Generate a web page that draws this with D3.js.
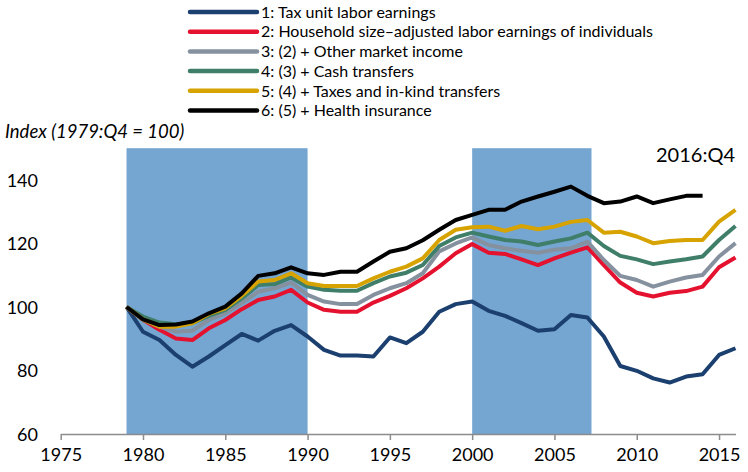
<!DOCTYPE html>
<html>
<head>
<meta charset="utf-8">
<script src="https://cdn.jsdelivr.net/npm/d3@7"></script>
<style>
  body { margin: 0; background: #fff; }
  text { font-family: Lato, "Open Sans", sans-serif; fill: #000; }
</style>
</head>
<body>
<div id="chart"></div>
<script>
'use strict';

// annual points, 1979 to 2016 (black series stops at 2014)
const years = d3.range(1979, 2017);

const taxUnitLabor = [100, 92.2, 89.6, 84.9, 81.2, 84.4, 88.0, 91.5, 89.4, 92.5, 94.3, 90.7, 86.5, 84.7, 84.7, 84.4, 90.4, 88.6, 92.2,
  98.5, 100.9, 101.7, 98.8, 97.2, 94.9, 92.5, 93.0, 97.5, 96.7, 90.7, 81.4, 79.9, 77.5, 76.2, 78.1, 78.8, 84.9, 87.0];
const hhAdjusted = [100, 96.0, 92.8, 90.1, 89.6, 93.3, 95.9, 99.3, 102.2, 103.3, 105.4, 101.4, 99.1, 98.5, 98.5, 101.4, 103.5, 105.9, 109.0,
  112.7, 116.9, 119.8, 117.1, 116.7, 115.0, 113.2, 115.3, 117.1, 118.8, 113.2, 107.7, 104.5, 103.3, 104.5, 105.0, 106.4, 112.5, 115.6];
const otherMarket = [100, 96.0, 93.8, 92.2, 92.5, 95.9, 98.0, 101.2, 104.8, 105.9, 107.7, 103.8, 101.7, 100.9, 100.9, 103.8, 105.9, 107.5, 110.6,
  117.5, 120.0, 121.9, 119.5, 118.5, 117.7, 117.1, 118.0, 118.5, 120.6, 114.8, 109.8, 108.5, 106.4, 108.0, 109.3, 110.1, 115.9, 120.1];
const cashTransfers = [100, 97.0, 95.1, 94.6, 94.9, 97.2, 99.1, 102.7, 106.9, 107.2, 109.3, 106.4, 105.4, 105.1, 105.1, 107.5, 109.6, 110.8, 113.2,
  119.2, 121.9, 123.4, 122.2, 121.1, 120.6, 119.5, 120.6, 121.6, 123.4, 119.2, 116.1, 115.0, 113.5, 114.3, 115.0, 115.9, 121.1, 125.5];
const taxesInKind = [100, 96.1, 93.8, 93.8, 94.9, 97.8, 99.6, 103.5, 108.0, 108.5, 110.6, 107.5, 106.6, 106.6, 106.6, 109.0, 111.1, 112.7, 115.3,
  121.1, 124.3, 125.1, 125.3, 124.0, 125.5, 124.5, 125.3, 126.8, 127.4, 123.4, 123.7, 122.2, 120.1, 120.8, 121.1, 121.1, 126.9, 130.6];
const healthIns = [100, 96.1, 94.3, 94.5, 95.4, 98.0, 100.1, 104.3, 109.8, 110.6, 112.5, 110.6, 110.1, 111.1, 111.1, 114.3, 117.4, 118.5, 121.0,
  124.3, 127.4, 129.0, 130.6, 130.6, 133.2, 134.8, 136.3, 137.9, 135.0, 132.7, 133.2, 134.8, 132.7, 133.9, 135.0, 135.0];

const seriesNames = [
  '1: Tax unit labor earnings',
  '2: Household size\u2013adjusted labor earnings of individuals',
  '3: (2) + Other market income',
  '4: (3) + Cash transfers',
  '5: (4) + Taxes and in-kind transfers',
  '6: (5) + Health insurance'
];
const seriesValues = [taxUnitLabor, hhAdjusted, otherMarket, cashTransfers, taxesInKind, healthIns];
const seriesColors = ['#1b3f6e', '#e5122f', '#86919f', '#3f7e69', '#d6a300', '#000000'];

const recessions = [[1979, 1990], [2000, 2007.25]];
const xTicks = d3.range(1975, 2016, 5);
const yTicks = [60, 80, 100, 120, 140];

const width = 748, height = 472;

const svg = d3.select('#chart')
  .append('svg')
  .attr('width', width)
  .attr('height', height);

const x = d3.scaleLinear().domain([1975, 2016]).range([60.7, 735.5]);
const y = d3.scaleLinear().domain([60, 150]).range([434, 148.2]);

// shaded periods
svg.selectAll('.shade')
  .data(recessions)
  .enter()
  .append('rect')
  .attr('class', 'shade')
  .attr('x', d => x(d[0]))
  .attr('width', d => x(d[1]) - x(d[0]))
  .attr('y', y(150))
  .attr('height', y(60) - y(150))
  .attr('fill', '#75a5d1');

// x axis
const xAxis = svg.append('g')
  .attr('transform', `translate(0,${y(60)})`)
  .call(d3.axisBottom(x).tickValues(xTicks).tickFormat(d3.format('d')).tickSize(6).tickSizeOuter(0));
xAxis.select('.domain').attr('stroke', '#8c8c8c').attr('stroke-width', 1.5);
xAxis.selectAll('.tick line').attr('stroke', '#8c8c8c').attr('stroke-width', 1.5);
xAxis.selectAll('.tick text')
  .attr('y', 14)
  .style('font-family', 'Lato, sans-serif')
  .style('font-size', '18px')
  .attr('fill', '#000');

// y axis, labels only
const yAxis = svg.append('g')
  .attr('transform', 'translate(38,0)')
  .call(d3.axisLeft(y).tickValues(yTicks).tickSize(0).tickPadding(0));
yAxis.select('.domain').remove();
yAxis.selectAll('.tick text')
  .attr('dy', '0.36em')
  .style('font-family', 'Lato, sans-serif')
  .style('font-size', '18px')
  .attr('fill', '#000');

// lines
const line = d3.line()
  .x((d, i) => x(years[i]))
  .y(d => y(d));

svg.selectAll('.series')
  .data(seriesValues)
  .enter()
  .append('path')
  .attr('class', 'series')
  .attr('d', line)
  .attr('fill', 'none')
  .attr('stroke', (d, i) => seriesColors[i])
  .attr('stroke-width', 4)
  .attr('stroke-linejoin', 'round');

// legend
const legend = svg.selectAll('.legend')
  .data(seriesNames)
  .enter()
  .append('g')
  .attr('class', 'legend')
  .attr('transform', (d, i) => `translate(0,${12 + i * 19.7})`);

legend.append('line')
  .attr('x1', 190).attr('x2', 257)
  .attr('stroke', (d, i) => seriesColors[i])
  .attr('stroke-width', 4.5)
  .attr('stroke-linecap', 'round');

legend.append('text')
  .attr('x', 261)
  .attr('dy', '0.36em')
  .style('font-size', '16px')
  .text(d => d);

svg.append('text')
  .attr('x', 5)
  .attr('y', 131)
  .attr('dy', '0.36em')
  .style('font-size', '18.5px')
  .style('font-style', 'italic')
  .text('Index (1979:Q4 = 100)');

svg.append('text')
  .attr('x', 735)
  .attr('y', 155)
  .attr('dy', '0.36em')
  .attr('text-anchor', 'end')
  .style('font-size', '20px')
  .text('2016:Q4');
</script>
</body>
</html>
